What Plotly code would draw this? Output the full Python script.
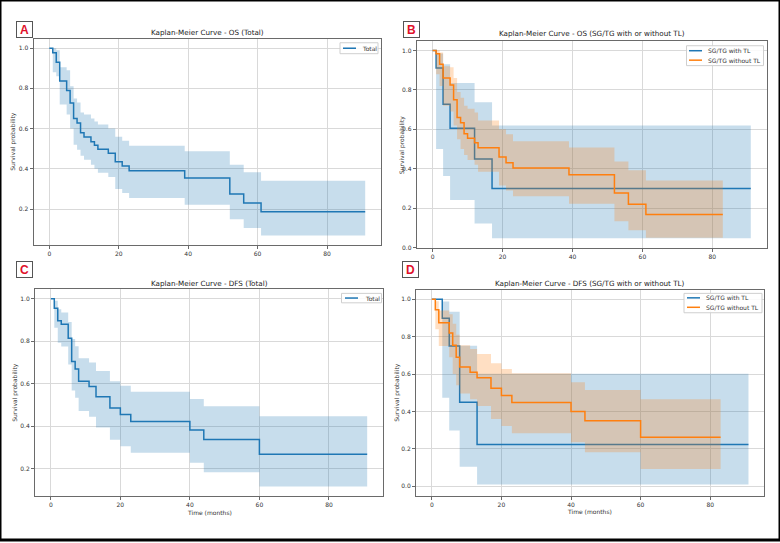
import plotly.graph_objects as go

# ---------------- data ----------------
# Panel A: OS, total cohort
A_time  = [0, 1, 2, 3, 5, 6, 7, 8, 9, 10, 12, 13, 14, 17, 19, 21, 23, 39, 52, 56, 61]
A_surv  = [1.0, 0.977, 0.93, 0.837, 0.79, 0.727, 0.65, 0.628, 0.58, 0.558, 0.535, 0.517, 0.497, 0.478, 0.435, 0.414, 0.39, 0.355, 0.275, 0.23, 0.187]
A_upper = [1.0, 1.0, 0.99, 0.905, 0.89, 0.81, 0.75, 0.73, 0.68, 0.67, 0.65, 0.635, 0.62, 0.60, 0.56, 0.54, 0.515, 0.487, 0.42, 0.383, 0.341]
A_lower = [1.0, 0.88, 0.86, 0.72, 0.67, 0.60, 0.52, 0.495, 0.465, 0.445, 0.42, 0.40, 0.38, 0.36, 0.30, 0.28, 0.255, 0.222, 0.149, 0.106, 0.069]
A_end = 91

# Panel B: OS, SG/TG with TL
Bw_time  = [0, 1, 3, 5, 12, 17]
Bw_surv  = [1.0, 0.911, 0.727, 0.606, 0.449, 0.30]
Bw_upper = [1.0, 0.985, 0.93, 0.835, 0.737, 0.62]
Bw_lower = [1.0, 0.50, 0.363, 0.242, 0.122, 0.047]
Bw_end = 91
# Panel B: OS, SG/TG without TL
Bo_time  = [0, 1, 2, 3, 5, 6, 7, 8, 9, 10, 12, 13, 19, 21, 23, 39, 52, 56, 61]
Bo_surv  = [1.0, 0.983, 0.93, 0.86, 0.825, 0.75, 0.66, 0.633, 0.577, 0.555, 0.532, 0.507, 0.46, 0.43, 0.404, 0.37, 0.277, 0.22, 0.168]
Bo_upper = [1.0, 1.0, 0.99, 0.92, 0.915, 0.86, 0.79, 0.76, 0.72, 0.705, 0.685, 0.645, 0.60, 0.575, 0.54, 0.508, 0.437, 0.392, 0.34]
Bo_lower = [1.0, 0.88, 0.82, 0.72, 0.69, 0.62, 0.55, 0.50, 0.47, 0.445, 0.42, 0.385, 0.315, 0.29, 0.26, 0.223, 0.134, 0.088, 0.05]
Bo_end = 83

# Panel C: DFS, total cohort
C_time  = [0, 1, 2, 3, 5, 6, 7, 8, 11, 13, 17, 20, 23, 40, 44, 60]
C_surv  = [1.0, 0.955, 0.896, 0.88, 0.814, 0.705, 0.669, 0.612, 0.587, 0.539, 0.486, 0.455, 0.422, 0.382, 0.338, 0.268]
C_upper = [1.0, 0.99, 0.95, 0.935, 0.89, 0.81, 0.776, 0.72, 0.70, 0.66, 0.612, 0.59, 0.562, 0.528, 0.494, 0.447]
C_lower = [1.0, 0.863, 0.793, 0.775, 0.69, 0.568, 0.534, 0.472, 0.445, 0.394, 0.337, 0.306, 0.275, 0.228, 0.184, 0.116]
C_end = 91

# Panel D: DFS, SG/TG with TL
Dw_time  = [0, 3, 5, 8, 13]
Dw_surv  = [1.0, 0.899, 0.75, 0.45, 0.223]
Dw_upper = [1.0, 0.988, 0.934, 0.752, 0.602]
Dw_lower = [1.0, 0.473, 0.298, 0.105, 0.01]
Dw_end = 91
# Panel D: DFS, SG/TG without TL
Do_time  = [0, 1, 2, 5, 6, 7, 8, 11, 13, 17, 20, 23, 40, 44, 60]
Do_surv  = [1.0, 0.944, 0.875, 0.82, 0.755, 0.69, 0.638, 0.61, 0.58, 0.524, 0.485, 0.448, 0.40, 0.35, 0.262]
Do_upper = [1.0, 0.99, 0.94, 0.92, 0.87, 0.81, 0.755, 0.735, 0.707, 0.658, 0.628, 0.605, 0.556, 0.515, 0.466]
Do_lower = [1.0, 0.84, 0.75, 0.69, 0.60, 0.54, 0.497, 0.465, 0.43, 0.36, 0.323, 0.284, 0.236, 0.182, 0.092]
Do_end = 83

x_ticks = [0, 20, 40, 60, 80]

titles = ["Kaplan-Meier Curve - OS (Total)",
          "Kaplan-Meier Curve - OS (SG/TG with or without TL)",
          "Kaplan-Meier Curve - DFS (Total)",
          "Kaplan-Meier Curve - DFS (SG/TG with or without TL)"]
panel_letters = ["A", "B", "C", "D"]
label_total = "Total"
label_with = "SG/TG with TL"
label_without = "SG/TG without TL"
y_label = "Survival probability"
x_label = "Time (months)"

# ---------------- styling ----------------
W, H = 780, 543
FONT = "DejaVu Sans"
BLUE, ORANGE = "#1f77b4", "#ff7f0e"
BLUE_BAND, ORANGE_BAND = "rgba(31,119,180,0.25)", "rgba(255,127,14,0.25)"
TXT = "#333333"


def px_x(a):
    return a / W


def px_y(a):
    return 1 - a / H


fig = go.Figure()


def add_km(t, s, hi, lo, end, color, band, name, ax):
    x = list(t) + [end]
    yh = list(hi) + [hi[-1]]
    yl = list(lo) + [lo[-1]]
    ys = list(s) + [s[-1]]
    xa, ya = "x" + ax, "y" + ax
    fig.add_trace(go.Scatter(x=x, y=yh, mode="lines", line=dict(width=0, shape="hv"),
                             xaxis=xa, yaxis=ya, showlegend=False, hoverinfo="skip"))
    fig.add_trace(go.Scatter(x=x, y=yl, mode="lines", line=dict(width=0, shape="hv"),
                             fill="tonexty", fillcolor=band,
                             xaxis=xa, yaxis=ya, showlegend=False, hoverinfo="skip"))
    fig.add_trace(go.Scatter(x=x, y=ys, mode="lines", name=name,
                             line=dict(color=color, width=1.5, shape="hv"),
                             xaxis=xa, yaxis=ya, showlegend=False))


add_km(A_time, A_surv, A_upper, A_lower, A_end, BLUE, BLUE_BAND, label_total, "")
add_km(Bw_time, Bw_surv, Bw_upper, Bw_lower, Bw_end, BLUE, BLUE_BAND, label_with, "2")
add_km(Bo_time, Bo_surv, Bo_upper, Bo_lower, Bo_end, ORANGE, ORANGE_BAND, label_without, "2")
add_km(C_time, C_surv, C_upper, C_lower, C_end, BLUE, BLUE_BAND, label_total, "3")
add_km(Dw_time, Dw_surv, Dw_upper, Dw_lower, Dw_end, BLUE, BLUE_BAND, label_with, "4")
add_km(Do_time, Do_surv, Do_upper, Do_lower, Do_end, ORANGE, ORANGE_BAND, label_without, "4")

# panel boxes in pixels: (left, right, top, bottom), y range
panels = [
    ((33.5, 381.0, 39.0, 246.0), [0.0233, 1.0465]),
    ((416.7, 766.7, 41.3, 249.0), [0.0, 1.0477]),
    ((35.0, 383.0, 291.0, 498.7), [0.072, 1.044]),
    ((416.0, 764.3, 291.7, 498.3), [-0.0495, 1.0495]),
]

axis_common = dict(showgrid=True, gridcolor="#d9d9d9", gridwidth=1,
                   showline=True, linecolor="#6a6a6a", linewidth=1, mirror=True,
                   ticks="outside", ticklen=3, tickcolor="#6a6a6a", zeroline=False,
                   tickfont=dict(family=FONT, size=6, color=TXT))

layout = dict(width=W, height=H, margin=dict(l=0, r=0, t=0, b=0),
              paper_bgcolor="white", plot_bgcolor="white", showlegend=False)

for i, ((l, r, t, b), yr) in enumerate(panels):
    suf = "" if i == 0 else str(i + 1)
    layout["xaxis" + suf] = dict(domain=[px_x(l), px_x(r)], range=[-4.55, 95.55],
                                  tickvals=x_ticks, anchor="y" + suf, **axis_common)
    layout["yaxis" + suf] = dict(domain=[px_y(b), px_y(t)], range=yr,
                                  tick0=0, dtick=0.2, tickformat=".1f",
                                  anchor="x" + suf, **axis_common)

fig.update_layout(**layout)

# titles
title_pos = [(207, 33), (591.7, 34), (209, 284.7), (590, 284.7)]
for txt, (cx, cy) in zip(titles, title_pos):
    fig.add_annotation(text=txt, x=px_x(cx), y=px_y(cy), xref="paper", yref="paper",
                       showarrow=False, xanchor="center", yanchor="middle",
                       font=dict(family=FONT, size=7.2, color="#222"))

# y-axis labels
ylab_pos = [(13, 142.5), (402, 145), (15, 395), (397, 395)]
for (cx, cy) in ylab_pos:
    fig.add_annotation(text=y_label, x=px_x(cx), y=px_y(cy), xref="paper", yref="paper",
                       showarrow=False, textangle=-90, xanchor="center", yanchor="middle",
                       font=dict(family=FONT, size=6, color=TXT))

# x-axis labels (bottom row only)
for (cx, cy) in [(209, 515), (589, 514)]:
    fig.add_annotation(text=x_label, x=px_x(cx), y=px_y(cy), xref="paper", yref="paper",
                       showarrow=False, xanchor="center", yanchor="middle",
                       font=dict(family=FONT, size=6, color=TXT))

# legends (matplotlib-style compact boxes): box (l, r, t, b), entries [(label, color, y)]
legends = [
    ((340, 378, 43, 54), 343, 356, 360, [(label_total, BLUE, 48.5)]),
    ((686.5, 763.5, 46, 66), 689, 702, 706, [(label_with, BLUE, 51), (label_without, ORANGE, 60.5)]),
    ((341.5, 381.5, 295, 304.5), 345, 358, 363, [(label_total, BLUE, 299.7)]),
    ((684, 762, 295, 314.5), 687, 700, 703.5, [(label_with, BLUE, 299.5), (label_without, ORANGE, 309)]),
]
for (l, r, t, b), lx0, lx1, tx, entries in legends:
    fig.add_shape(type="rect", xref="paper", yref="paper",
                  x0=px_x(l), x1=px_x(r), y0=px_y(b), y1=px_y(t),
                  line=dict(color="#cfcfcf", width=1), fillcolor="rgba(255,255,255,0.85)")
    for lab, col, yy in entries:
        fig.add_shape(type="line", xref="paper", yref="paper",
                      x0=px_x(lx0), x1=px_x(lx1), y0=px_y(yy), y1=px_y(yy),
                      line=dict(color=col, width=1.5))
        fig.add_annotation(text=lab, x=px_x(tx), y=px_y(yy), xref="paper", yref="paper",
                           showarrow=False, xanchor="left", yanchor="middle",
                           font=dict(family=FONT, size=6, color=TXT))

# panel letters
letter_pos = [(25, 29.5), (411.5, 29.5), (25, 270.5), (410, 270.5)]
for letter, (cx, cy) in zip(panel_letters, letter_pos):
    fig.add_annotation(text="<b>" + letter + "</b>", x=px_x(cx), y=px_y(cy),
                       xref="paper", yref="paper", showarrow=False,
                       xanchor="center", yanchor="middle", width=13, height=13,
                       bgcolor="white", bordercolor="#555", borderwidth=1, borderpad=1,
                       font=dict(family="Liberation Sans", size=12, color="#e0102a"))

# outer frame
fig.add_shape(type="rect", xref="paper", yref="paper", x0=0, y0=0, x1=1, y1=1,
              line=dict(color="black", width=3), fillcolor="rgba(0,0,0,0)")

fig.write_html("out.html",
               config={"displayModeBar": False},
               post_script="document.body.style.margin='0';document.body.style.padding='0';")
